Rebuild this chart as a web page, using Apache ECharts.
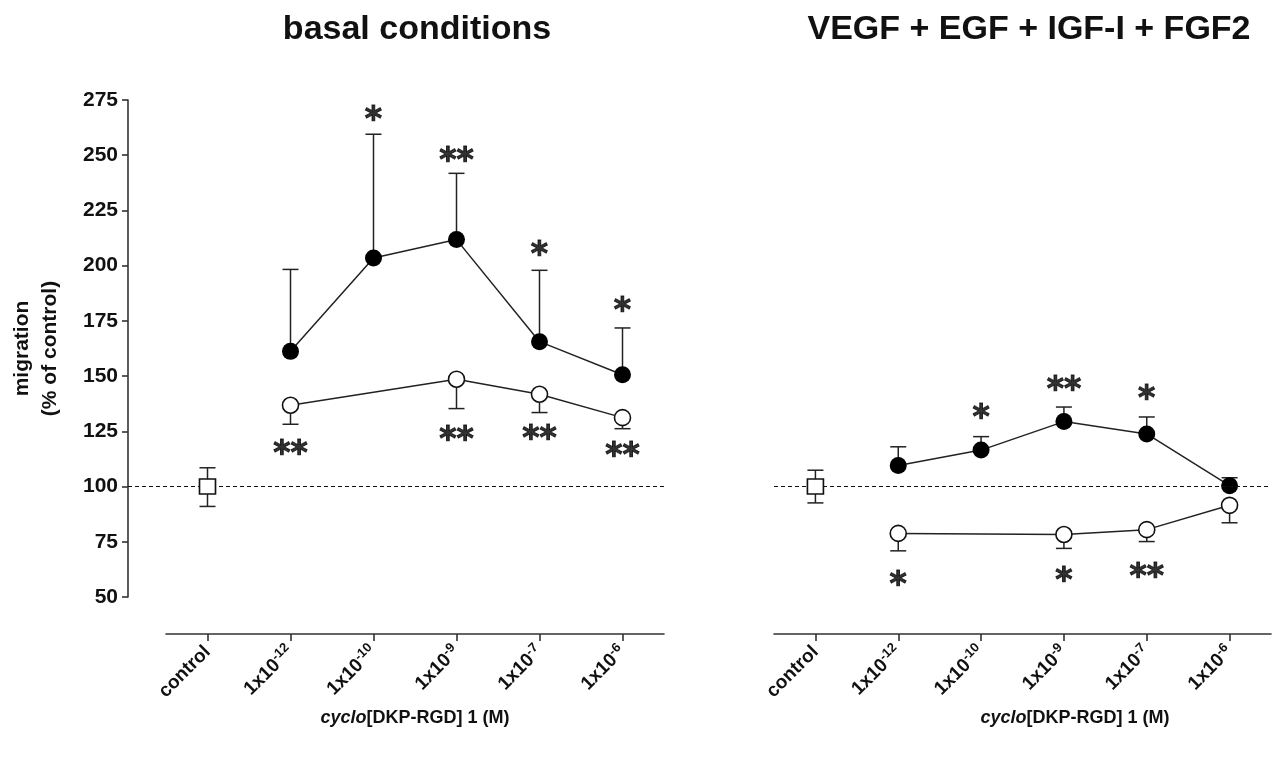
<!DOCTYPE html>
<html>
<head>
<meta charset="utf-8">
<script src="https://cdn.jsdelivr.net/npm/echarts@6/dist/echarts.min.js"></script>
<style>
html,body{margin:0;padding:0;background:#fff;}
#chart{width:1285px;height:760px;}
</style>
</head>
<body>
<div id="chart"></div>
<script>
// ---------- data ----------
const categories = ['control', '1x10^-12', '1x10^-10', '1x10^-9', '1x10^-7', '1x10^-6'];
const yMin = 50, yMax = 275, yStep = 25;
const refLevel = 100;

// basal conditions
const basalControl = 100;
const basalControlErr = [91, 108.5];
const basalFilled      = [null, 161.2, 203.5, 211.8, 165.6, 150.6];
const basalFilledUpper = [null, 198.3, 259.5, 241.8, 197.9, 171.8];
const basalOpen        = [null, 136.8, null, 148.6, 141.8, 131.2];
const basalOpenLower   = [null, 128.2, null, 135.3, 133.5, 126.2];
const basalFilledStars = ['', '', '*', '**', '*', '*'];
const basalFilledStarY = [null, null, 269, 250.5, 207.7, 182.4];
const basalOpenStars   = ['', '**', '', '**', '**', '**'];
const basalOpenStarY   = [null, 117.5, null, 124, 124.4, 116.8];

// VEGF + EGF + IGF-I + FGF2
const gfControl = 100;
const gfControlErr = [92.6, 107.4];
const gfFilled      = [null, 109.5, 116.5, 129.4, 123.8, 100.4];
const gfFilledUpper = [null, 118, 122.6, 136, 131.5, 104];
const gfOpen        = [null, 78.8, null, 78.3, 80.5, 91.5];
const gfOpenLower   = [null, 70.9, null, 72, 75.1, 83.6];
const gfFilledStars = ['', '', '*', '**', '*', ''];
const gfFilledStarY = [null, null, 134, 146.8, 142.7, null];
const gfOpenStars   = ['', '*', '', '*', '**', ''];
const gfOpenStarY   = [null, 58.6, null, 60, 62, null];

// ---------- helpers ----------
const FONT = "'Liberation Sans', Arial, sans-serif";
const STAR_FONT = "'DejaVu Sans', sans-serif";
const INK = '#111';

function lineData(arr) { return arr.map(v => v == null ? '-' : v); }
function errItems(mean, cap) {
  const out = [];
  mean.forEach((m, i) => { if (m != null && cap[i] != null) out.push([i, m, cap[i]]); });
  return out;
}
function starItems(labels, ys) {
  const out = [];
  labels.forEach((s, i) => { if (s && ys[i] != null) out.push([i, ys[i], s]); });
  return out;
}
function errRender(params, api) {
  const x = api.value(0);
  const p1 = api.coord([x, api.value(1)]);
  const p2 = api.coord([x, api.value(2)]);
  const hw = 8;
  const st = { stroke: '#222', lineWidth: 1.5 };
  return {
    type: 'group',
    children: [
      { type: 'line', shape: { x1: p1[0], y1: p1[1], x2: p2[0], y2: p2[1] }, style: st },
      { type: 'line', shape: { x1: p2[0] - hw, y1: p2[1], x2: p2[0] + hw, y2: p2[1] }, style: st }
    ]
  };
}
function catFormatter(v) {
  const parts = v.split('^');
  return parts.length > 1 ? '{b|' + parts[0] + '}{s|' + parts[1] + '}' : '{b|' + v + '}';
}
function xAxisCfg(gi) {
  return {
    gridIndex: gi, type: 'category', data: categories, boundaryGap: true, offset: 37,
    axisLine: { show: true, lineStyle: { color: '#333', width: 1.6 } },
    axisTick: { show: true, alignWithLabel: true, length: 7, lineStyle: { color: '#333', width: 1.6 } },
    axisLabel: {
      rotate: 45, margin: 15, formatter: catFormatter,
      rich: {
        b: { fontSize: 19, fontWeight: 'bold', color: INK, fontFamily: FONT, lineHeight: 23 },
        s: { fontSize: 13, fontWeight: 'bold', color: INK, fontFamily: FONT, lineHeight: 13, verticalAlign: 'top' }
      }
    },
    splitLine: { show: false }
  };
}
function yAxisCfg(gi, visible) {
  const c = { gridIndex: gi, type: 'value', min: yMin, max: yMax, interval: yStep, show: visible, splitLine: { show: false } };
  if (visible) {
    Object.assign(c, {
      offset: 38,
      axisLine: { show: true, lineStyle: { color: '#333', width: 1.6 } },
      axisTick: { show: true, length: 6, lineStyle: { color: '#333', width: 1.6 } },
      axisLabel: { fontSize: 21, fontWeight: 'bold', color: INK, fontFamily: FONT, margin: 10 },
      name: 'migration\n(% of control)', nameLocation: 'middle', nameGap: 64, nameRotate: 90,
      nameTextStyle: { fontSize: 21, fontWeight: 'bold', color: INK, fontFamily: FONT, lineHeight: 28 }
    });
  }
  return c;
}
function panelSeries(xi, yi, ctrl, ctrlErr, filled, filledUp, open, openLo, fStars, fStarY, oStars, oStarY) {
  const errs = errItems(filled, filledUp).concat(errItems(open, openLo));
  errs.push([0, ctrl, ctrlErr[0]], [0, ctrl, ctrlErr[1]]);
  const starStyle = {
    show: true, position: 'inside', formatter: p => p.value[2], offset: [0, 8],
    fontSize: 33, fontWeight: 'bold', color: '#000', fontFamily: STAR_FONT,
    textBorderColor: '#000', textBorderWidth: 1.0
  };
  return [
    { type: 'custom', xAxisIndex: xi, yAxisIndex: yi, renderItem: errRender, data: errs, z: 2, encode: { x: 0, y: [1, 2] } },
    { type: 'line', xAxisIndex: xi, yAxisIndex: yi, data: lineData(filled), connectNulls: true,
      symbol: 'circle', symbolSize: 17, itemStyle: { color: '#000', opacity: 1 }, lineStyle: { color: '#222', width: 1.5 }, z: 3 },
    { type: 'line', xAxisIndex: xi, yAxisIndex: yi, data: lineData(open), connectNulls: true,
      symbol: 'circle', symbolSize: 16, itemStyle: { color: '#fff', borderColor: '#111', borderWidth: 1.6, opacity: 1 },
      lineStyle: { color: '#222', width: 1.5 }, z: 3 },
    { type: 'scatter', xAxisIndex: xi, yAxisIndex: yi, data: [[0, ctrl]], symbol: 'rect', symbolSize: [16, 15],
      itemStyle: { color: '#fff', borderColor: '#111', borderWidth: 1.6, opacity: 1 }, z: 5 },
    { type: 'scatter', xAxisIndex: xi, yAxisIndex: yi, data: starItems(fStars, fStarY).concat(starItems(oStars, oStarY)),
      symbolSize: 1, itemStyle: { color: 'rgba(0,0,0,0)' }, label: starStyle, z: 4 }
  ];
}
const refLineStyle = { type: [4, 3], color: '#111', width: 1.2 };

const option = {
  animation: false,
  backgroundColor: '#fff',
  title: [
    { text: 'basal conditions', left: 412, top: 8, textAlign: 'center',
      textStyle: { fontSize: 34, fontWeight: 'bold', color: INK, fontFamily: FONT } },
    { text: 'VEGF + EGF + IGF-I + FGF2', left: 1024, top: 8, textAlign: 'center',
      textStyle: { fontSize: 34, fontWeight: 'bold', color: INK, fontFamily: FONT } }
  ],
  grid: [
    { left: 166, top: 100, width: 498, height: 497 },
    { left: 774, top: 100, width: 497, height: 497 },
    { left: 128, top: 100, width: 536, height: 497 }
  ],
  xAxis: [xAxisCfg(0), xAxisCfg(1), { gridIndex: 2, type: 'value', min: 0, max: 1, show: false }],
  yAxis: [yAxisCfg(0, true), yAxisCfg(1, false), yAxisCfg(2, false)],
  graphic: [
    { type: 'text', x: 415, y: 718, style: {
      text: '{i|cyclo}{n|[DKP-RGD] 1 (M)}', align: 'center', verticalAlign: 'middle',
      rich: { i: { fontSize: 18, fontWeight: 'bold', fontStyle: 'italic', fill: INK, fontFamily: FONT },
              n: { fontSize: 18, fontWeight: 'bold', fill: INK, fontFamily: FONT } } } },
    { type: 'text', x: 1075, y: 718, style: {
      text: '{i|cyclo}{n|[DKP-RGD] 1 (M)}', align: 'center', verticalAlign: 'middle',
      rich: { i: { fontSize: 18, fontWeight: 'bold', fontStyle: 'italic', fill: INK, fontFamily: FONT },
              n: { fontSize: 18, fontWeight: 'bold', fill: INK, fontFamily: FONT } } } }
  ],
  series: [
    { type: 'line', xAxisIndex: 2, yAxisIndex: 2, data: [], z: 1,
      markLine: { silent: true, symbol: ['none', 'none'], label: { show: false }, lineStyle: refLineStyle, data: [{ yAxis: refLevel }] } },
    { type: 'line', xAxisIndex: 1, yAxisIndex: 1, data: [], z: 1,
      markLine: { silent: true, symbol: ['none', 'none'], label: { show: false }, lineStyle: refLineStyle, data: [{ yAxis: refLevel }] } }
  ].concat(
    panelSeries(0, 0, basalControl, basalControlErr, basalFilled, basalFilledUpper, basalOpen, basalOpenLower,
      basalFilledStars, basalFilledStarY, basalOpenStars, basalOpenStarY),
    panelSeries(1, 1, gfControl, gfControlErr, gfFilled, gfFilledUpper, gfOpen, gfOpenLower,
      gfFilledStars, gfFilledStarY, gfOpenStars, gfOpenStarY)
  )
};
echarts.init(document.getElementById('chart')).setOption(option);
</script>
</body>
</html>
